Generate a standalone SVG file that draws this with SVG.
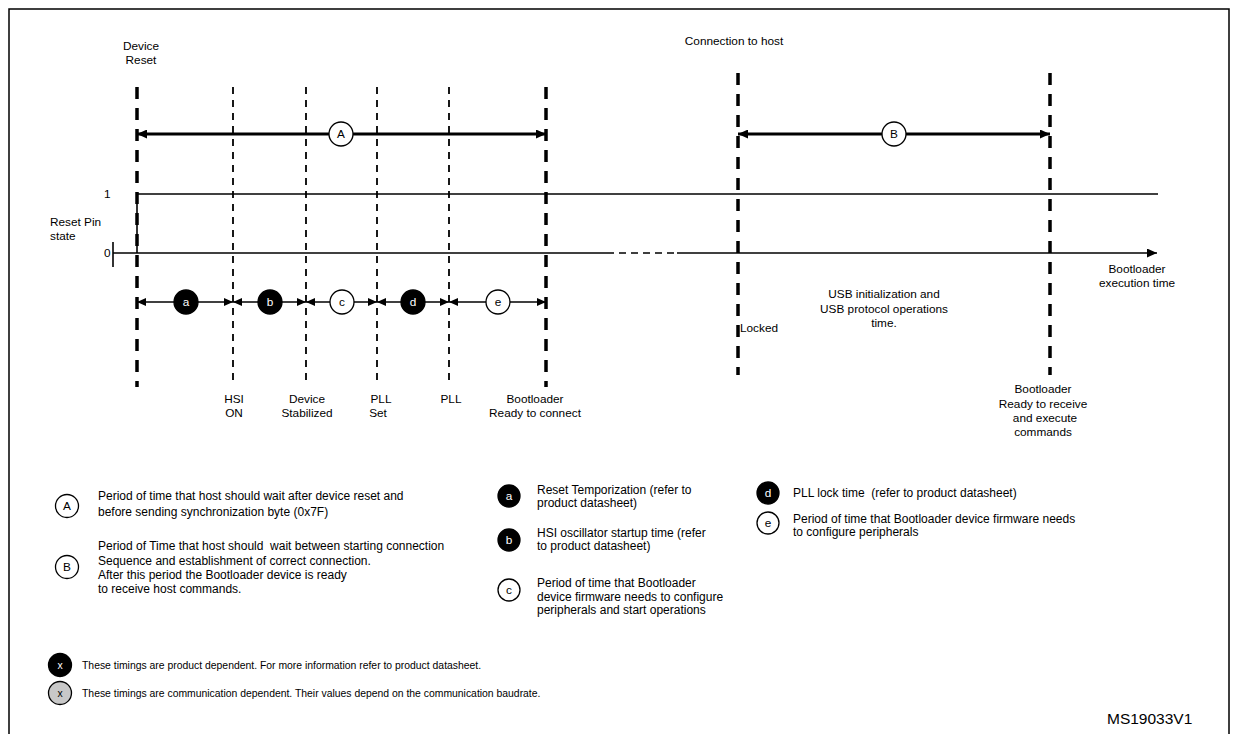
<svg xmlns="http://www.w3.org/2000/svg" width="1234" height="734" viewBox="0 0 1234 734">
  <defs>
    <style>
      text { font-family: "Liberation Sans", Arial, sans-serif; fill: #000; }
      .lbl { font-size: 11.8px; }
      .mid { text-anchor: middle; }
      .leg { font-size: 12px; white-space: pre; }
      .note { font-size: 10.4px; }
      .code { font-size: 15.5px; }
      .thick { stroke: #000; stroke-width: 3.5; stroke-dasharray: 12 9; fill: none; }
      .thin { stroke: #000; stroke-width: 1.8; stroke-dasharray: 7 6; fill: none; }
      .span { stroke: #000; stroke-width: 3; fill: none; }
      .seg { stroke: #000; stroke-width: 1.6; fill: none; }
      .sig { stroke: #000; stroke-width: 1.6; fill: none; }
      .ring { fill: #fff; stroke: #000; stroke-width: 1.3; }
      .dot { fill: #000; stroke: #000; stroke-width: 1.3; }
      .grey { fill: #c8c8c8; stroke: #000; stroke-width: 1.3; }
      .w { fill: #fff; }
    </style>
    <marker id="headBig" viewBox="0 0 10 9" refX="10" refY="4.5" markerWidth="10" markerHeight="9" markerUnits="userSpaceOnUse" orient="auto-start-reverse">
      <path d="M0,0 L10,4.5 L0,9 z" fill="#000"/>
    </marker>
    <marker id="headSmall" viewBox="0 0 9 8" refX="9" refY="4" markerWidth="9" markerHeight="8" markerUnits="userSpaceOnUse" orient="auto-start-reverse">
      <path d="M0,0 L9,4 L0,8 z" fill="#000"/>
    </marker>
  </defs>

  <rect width="1234" height="734" fill="#fff"/>
  <!-- outer frame -->
  <path d="M9,734 V9 H1229 V734" fill="none" stroke="#000" stroke-width="1.5"/>

  <!-- milestone markers -->
  <g id="milestones">
    <line class="thick" x1="137" y1="87" x2="137" y2="387"/>
    <line class="thin" x1="233" y1="87" x2="233" y2="385"/>
    <line class="thin" x1="306" y1="87" x2="306" y2="385"/>
    <line class="thin" x1="377" y1="87" x2="377" y2="385"/>
    <line class="thin" x1="449" y1="87" x2="449" y2="385"/>
    <line class="thick" x1="546" y1="87" x2="546" y2="387"/>
    <line class="thick" x1="738" y1="73" x2="738" y2="375"/>
    <line class="thick" x1="1050" y1="73" x2="1050" y2="375"/>
  </g>

  <!-- reset pin waveform -->
  <g id="reset-pin">
    <text class="lbl" x="50" y="226">Reset Pin</text>
    <text class="lbl" x="50" y="240">state</text>
    <text class="lbl" x="104" y="198">1</text>
    <text class="lbl" x="104" y="257">0</text>
    <line class="sig" x1="113" y1="242" x2="113" y2="267"/>
    <line class="sig" x1="137" y1="194" x2="1158" y2="194"/>
    <line class="sig" x1="137" y1="194" x2="137" y2="253"/>
  </g>

  <g id="connectors">
    <!-- time axis -->
    <line class="sig" stroke-width="2" x1="113" y1="253" x2="607" y2="253"/>
    <line class="sig" stroke-width="2" stroke-dasharray="7 5" x1="607" y1="253" x2="677" y2="253"/>
    <line class="sig" stroke-width="2" x1="677" y1="253" x2="1157" y2="253" marker-end="url(#headBig)"/>
    <!-- spans A and B -->
    <line class="span" x1="137" y1="134" x2="546" y2="134" marker-start="url(#headBig)" marker-end="url(#headBig)"/>
    <line class="span" x1="738" y1="134" x2="1050" y2="134" marker-start="url(#headBig)" marker-end="url(#headBig)"/>
    <!-- startup phases -->
    <line class="seg" x1="137" y1="302" x2="233" y2="302" marker-start="url(#headSmall)" marker-end="url(#headSmall)"/>
    <line class="seg" x1="233" y1="302" x2="306" y2="302" marker-start="url(#headSmall)" marker-end="url(#headSmall)"/>
    <line class="seg" x1="306" y1="302" x2="377" y2="302" marker-start="url(#headSmall)" marker-end="url(#headSmall)"/>
    <line class="seg" x1="377" y1="302" x2="449" y2="302" marker-start="url(#headSmall)" marker-end="url(#headSmall)"/>
    <line class="seg" x1="449" y1="302" x2="546" y2="302" marker-start="url(#headSmall)" marker-end="url(#headSmall)"/>
  </g>

  <g id="span-A">
    <circle class="ring" cx="341" cy="134" r="12"/>
    <text class="lbl mid" x="341" y="138">A</text>
  </g>
  <g id="span-B">
    <circle class="ring" cx="894" cy="134" r="12"/>
    <text class="lbl mid" x="894" y="138">B</text>
  </g>

  <g id="phase-a">
    <circle class="dot" cx="186" cy="302" r="12"/>
    <text class="lbl mid w" x="186" y="306">a</text>
  </g>
  <g id="phase-b">
    <circle class="dot" cx="270" cy="302" r="12"/>
    <text class="lbl mid w" x="270" y="306">b</text>
  </g>
  <g id="phase-c">
    <circle class="ring" cx="342" cy="302" r="12"/>
    <text class="lbl mid" x="342" y="306">c</text>
  </g>
  <g id="phase-d">
    <circle class="dot" cx="413" cy="302" r="12"/>
    <text class="lbl mid w" x="413" y="306">d</text>
  </g>
  <g id="phase-e">
    <circle class="ring" cx="498" cy="302" r="12"/>
    <text class="lbl mid" x="498" y="306">e</text>
  </g>

  <!-- event labels -->
  <g id="labels">
    <text class="lbl mid" x="141" y="50">Device</text>
    <text class="lbl mid" x="141" y="64">Reset</text>
    <text class="lbl mid" x="734" y="45">Connection to host</text>
    <text class="lbl mid" x="234" y="403">HSI</text>
    <text class="lbl mid" x="234" y="417">ON</text>
    <text class="lbl mid" x="307" y="403">Device</text>
    <text class="lbl mid" x="307" y="417">Stabilized</text>
    <text class="lbl mid" x="381" y="403">PLL</text>
    <text class="lbl mid" x="378" y="417">Set</text>
    <text class="lbl mid" x="451" y="403">PLL</text>
    <text class="lbl mid" x="535" y="403">Bootloader</text>
    <text class="lbl mid" x="535" y="417">Ready to connect</text>
    <text class="lbl" x="740" y="332">Locked</text>
    <text class="lbl mid" x="884" y="298">USB initialization and</text>
    <text class="lbl mid" x="884" y="313">USB protocol operations</text>
    <text class="lbl mid" x="884" y="327">time.</text>
    <text class="lbl mid" x="1137" y="273">Bootloader</text>
    <text class="lbl mid" x="1137" y="287">execution time</text>
    <text class="lbl mid" x="1043" y="393">Bootloader</text>
    <text class="lbl mid" x="1043" y="408">Ready to receive</text>
    <text class="lbl mid" x="1045" y="422">and execute</text>
    <text class="lbl mid" x="1043" y="436">commands</text>
  </g>

  <!-- legend -->
  <g id="legend-A">
    <circle class="ring" cx="67" cy="506" r="11.5"/>
    <text class="lbl mid" x="67" y="510">A</text>
    <text class="leg" x="98" y="500">Period of time that host should wait after device reset and</text>
    <text class="leg" x="98" y="516">before sending synchronization byte (0x7F)</text>
  </g>
  <g id="legend-B">
    <circle class="ring" cx="67" cy="567" r="11.5"/>
    <text class="lbl mid" x="67" y="571">B</text>
    <text class="leg" x="98" y="550">Period of Time that host should  wait between starting connection</text>
    <text class="leg" x="98" y="565">Sequence and establishment of correct connection.</text>
    <text class="leg" x="98" y="579">After this period the Bootloader device is ready</text>
    <text class="leg" x="98" y="593">to receive host commands.</text>
  </g>
  <g id="legend-a">
    <circle class="dot" cx="509" cy="496" r="11"/>
    <text class="lbl mid w" x="509" y="500">a</text>
    <text class="leg" x="537" y="494">Reset Temporization (refer to</text>
    <text class="leg" x="537" y="507">product datasheet)</text>
  </g>
  <g id="legend-b">
    <circle class="dot" cx="509" cy="540" r="11"/>
    <text class="lbl mid w" x="509" y="544">b</text>
    <text class="leg" x="537" y="537">HSI oscillator startup time (refer</text>
    <text class="leg" x="537" y="550">to product datasheet)</text>
  </g>
  <g id="legend-c">
    <circle class="ring" cx="509" cy="590" r="11"/>
    <text class="lbl mid" x="509" y="594">c</text>
    <text class="leg" x="537" y="587">Period of time that Bootloader</text>
    <text class="leg" x="537" y="601">device firmware needs to configure</text>
    <text class="leg" x="537" y="614">peripherals and start operations</text>
  </g>
  <g id="legend-d">
    <circle class="dot" cx="768" cy="493" r="11"/>
    <text class="lbl mid w" x="768" y="497">d</text>
    <text class="leg" x="793" y="497">PLL lock time  (refer to product datasheet)</text>
  </g>
  <g id="legend-e">
    <circle class="ring" cx="768" cy="523" r="11"/>
    <text class="lbl mid" x="768" y="527">e</text>
    <text class="leg" x="793" y="523">Period of time that Bootloader device firmware needs</text>
    <text class="leg" x="793" y="536">to configure peripherals</text>
  </g>
  <g id="legend-product">
    <circle class="dot" cx="60" cy="665" r="11.5"/>
    <text class="note mid w" x="60" y="669">x</text>
    <text class="note" x="82" y="669">These timings are product dependent. For more information refer to product datasheet.</text>
  </g>
  <g id="legend-comm">
    <circle class="grey" cx="60" cy="693" r="11.5"/>
    <text class="note mid" x="60" y="697">x</text>
    <text class="note" x="82" y="697">These timings are communication dependent. Their values depend on the communication baudrate.</text>
  </g>

  <text class="code" x="1107" y="724">MS19033V1</text>
</svg>
